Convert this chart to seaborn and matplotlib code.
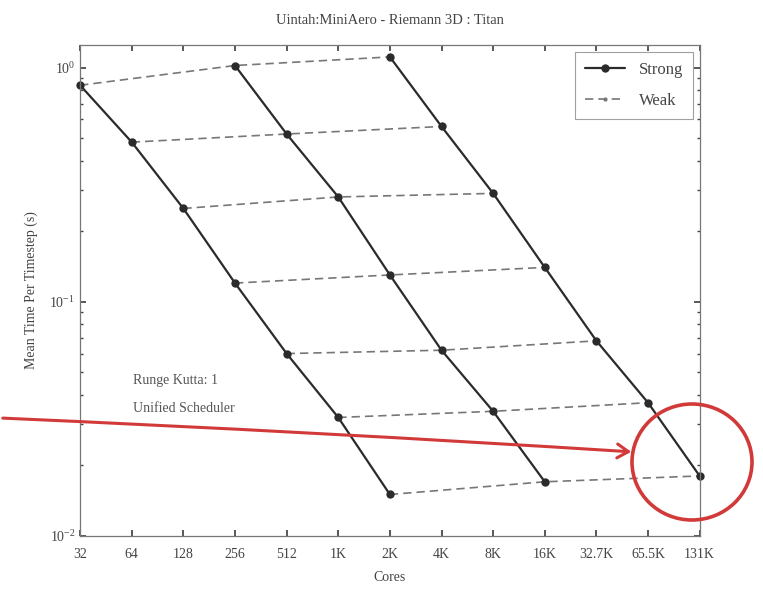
import numpy as np
import pandas as pd
import matplotlib
matplotlib.use("Agg")
import matplotlib.pyplot as plt
from matplotlib.lines import Line2D
from matplotlib.patches import Ellipse, FancyArrowPatch
import seaborn as sns

# Core counts and their axis labels
cores = [32, 64, 128, 256, 512, 1024, 2048, 4096, 8192, 16384, 32768, 65536, 131072]
tick_labels = ["32", "64", "128", "256", "512", "1K", "2K", "4K", "8K", "16K",
               "32.7K", "65.5K", "131K"]

# Mean time per timestep (s) for the three problem sizes (strong scaling)
small_cores = [32, 64, 128, 256, 512, 1024, 2048]
small_time = [0.84, 0.48, 0.25, 0.12, 0.060, 0.032, 0.015]

medium_cores = [256, 512, 1024, 2048, 4096, 8192, 16384]
medium_time = [1.02, 0.52, 0.28, 0.13, 0.062, 0.034, 0.017]

large_cores = [2048, 4096, 8192, 16384, 32768, 65536, 131072]
large_time = [1.11, 0.56, 0.29, 0.14, 0.068, 0.037, 0.018]

title = "Uintah:MiniAero - Riemann 3D : Titan"
note_lines = ["Runge Kutta: 1", "Unified Scheduler"]

sns.set_theme(style="white")
plt.rcParams["font.family"] = ["Liberation Serif", "DejaVu Serif"]
plt.rcParams["mathtext.fontset"] = "stix"

# Long-form tables for the strong and weak scaling curves
sizes = {"small": (small_cores, small_time),
         "medium": (medium_cores, medium_time),
         "large": (large_cores, large_time)}
strong_rows = []
weak_rows = []
for name, (cs, ts) in sizes.items():
    for k, (c, t) in enumerate(zip(cs, ts)):
        strong_rows.append({"problem": name, "cores": c, "time": t})
        weak_rows.append({"group": k, "cores": c, "time": t})
strong_df = pd.DataFrame(strong_rows)
weak_df = pd.DataFrame(weak_rows)

fig = plt.figure(figsize=(7.63, 5.90), dpi=100)
ax = fig.add_axes([0.105, 0.092, 0.812, 0.832])

line_dark = "#2b2b2b"
line_weak = "#777777"

sns.lineplot(data=weak_df, x="cores", y="time", units="group", estimator=None,
             color=line_weak, linestyle=(0, (5, 3)), linewidth=1.2,
             marker="o", markersize=3, markeredgewidth=0, ax=ax,
             legend=False, sort=True, clip_on=False)
sns.lineplot(data=strong_df, x="cores", y="time", units="problem", estimator=None,
             color=line_dark, linewidth=1.6, marker="o", markersize=6,
             markeredgewidth=0, ax=ax, legend=False, sort=True, clip_on=False)

ax.set_xscale("log", base=2)
ax.set_yscale("log")
ax.set_xlim(cores[0], cores[-1])
ax.set_ylim(0.01, 1.25)
ax.set_xticks(cores)
ax.set_xticklabels(tick_labels)
ax.xaxis.set_minor_locator(matplotlib.ticker.NullLocator())
ax.set_yticks([0.01, 0.1, 1])
ax.tick_params(axis="both", which="both", direction="in", top=True, right=True,
               bottom=True, left=True, labelsize=10, colors="#444444", length=4)
ax.tick_params(axis="y", which="minor", length=2)
ax.tick_params(axis="x", pad=9)
for s in ax.spines.values():
    s.set_color("#777777")
    s.set_linewidth(0.9)

ax.set_xlabel("Cores", fontsize=10, color="#444444", labelpad=7)
ax.set_ylabel("Mean Time Per Timestep (s)", fontsize=10, color="#444444", labelpad=8)
ax.set_title(title, fontsize=10.5, color="#444444", pad=15)

handles = [
    Line2D([], [], color=line_dark, linewidth=1.6, marker="o", markersize=6,
           markeredgewidth=0, label="Strong"),
    Line2D([], [], color=line_weak, linestyle=(0, (5, 3)), linewidth=1.2,
           marker="o", markersize=3, markeredgewidth=0, label="Weak"),
]
leg = ax.legend(handles=handles, loc="upper right", fontsize=12, frameon=True,
                fancybox=False, edgecolor="#888888", handlelength=2.4,
                borderaxespad=0.4, labelspacing=0.9, borderpad=0.6,
                labelcolor="#444444")
leg.get_frame().set_linewidth(0.8)

ax.text(0.085, 0.31, note_lines[0], transform=ax.transAxes, fontsize=10,
        color="#555555")
ax.text(0.085, 0.252, note_lines[1], transform=ax.transAxes, fontsize=10,
        color="#555555")

# Red call-out: arrow from the left edge to the circled point at 131K cores
red = "#d23a3a"
fig.patches.append(Ellipse((692 / 763, 1 - 462 / 590), 120 / 763, 116 / 590,
                           transform=fig.transFigure, fill=False,
                           edgecolor=red, linewidth=2.6))
fig.add_artist(FancyArrowPatch(
    (0.0, 1 - 418 / 590), (634 / 763, 1 - 452 / 590),
    transform=fig.transFigure, arrowstyle="->,head_length=8,head_width=5",
    connectionstyle="arc3,rad=-0.005", color=red, linewidth=2.2))

fig.savefig("out.png", dpi=100, facecolor="white")
